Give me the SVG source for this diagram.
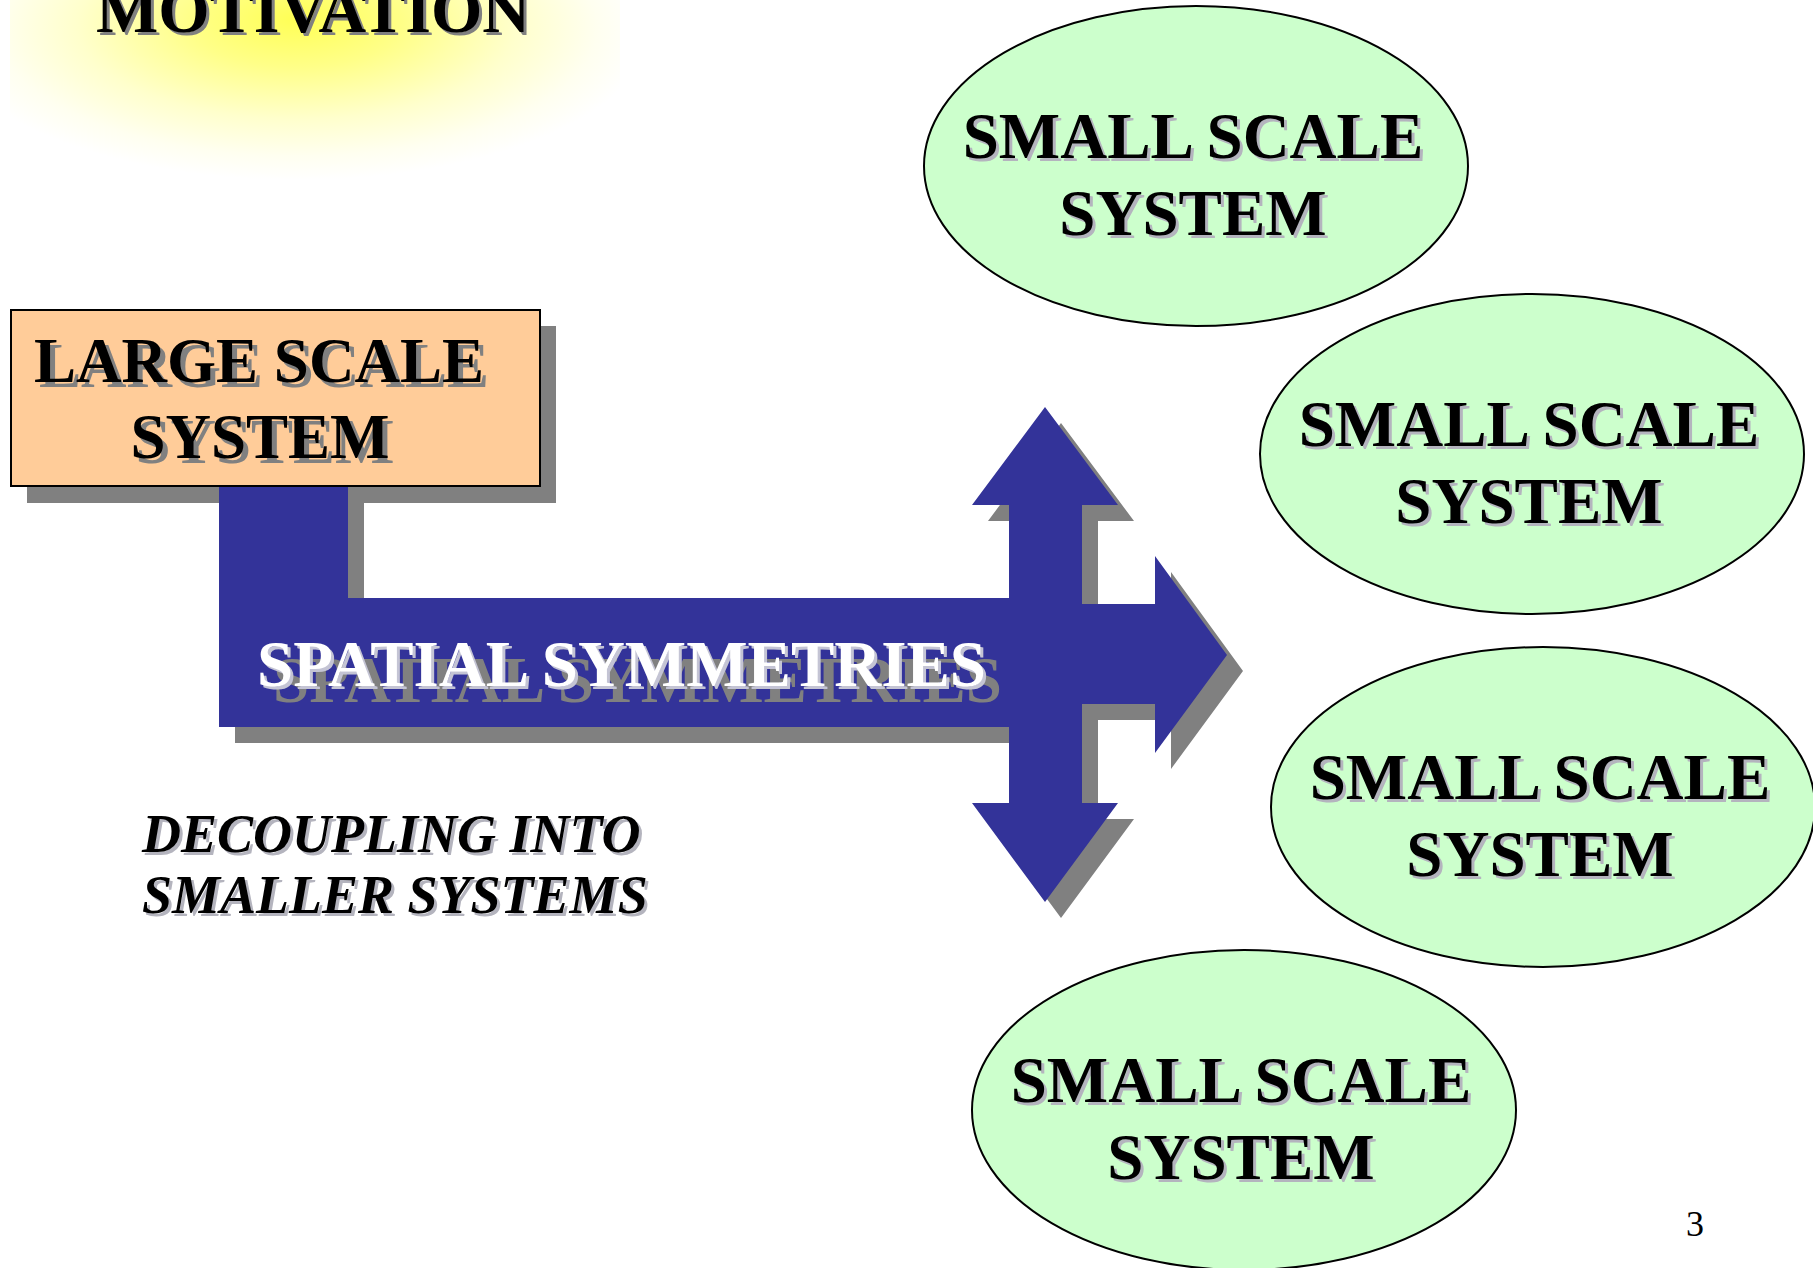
<svg xmlns="http://www.w3.org/2000/svg" width="1813" height="1268" viewBox="0 0 1813 1268">
  <defs>
    <radialGradient id="glow" cx="0.47" cy="0.42" r="0.58" fx="0.47" fy="0.38">
      <stop offset="0" stop-color="#ffff55"/>
      <stop offset="0.3" stop-color="#ffff88"/>
      <stop offset="0.62" stop-color="#ffffcc"/>
      <stop offset="0.85" stop-color="#fffff0"/>
      <stop offset="1" stop-color="#ffffff"/>
    </radialGradient>
    <style>
      .serif { font-family: "Liberation Serif", "Times New Roman", serif; }
      .bold { font-family: "Liberation Serif", "Times New Roman", serif; font-weight: bold; }
      .big { font-size: 65px; text-anchor: middle; }
      .ink { fill: #000000; }
      .soft { fill: #b4b4be; }
      .shade { fill: #808080; }
      .blue { fill: #333399; }
      .oval { fill: #ccffcc; stroke: #000000; stroke-width: 2; }
    </style>
  </defs>

  <rect width="1813" height="1268" fill="#ffffff"/>

  <!-- title with soft yellow glow behind it -->
  <g id="title">
    <rect x="10" y="-80" width="610" height="260" fill="url(#glow)"/>
    <text class="bold shade" x="99" y="35" font-size="66">MOTIVATION</text>
    <text class="bold ink" x="96" y="32" font-size="66">MOTIVATION</text>
  </g>

  <!-- connectors: bent arrow from the large system and the three-way splitter -->
  <g id="connectors">
    <rect x="27" y="326" width="529" height="177" class="shade"/>
    <polygon class="shade" points="235,503 364,503 364,614 1056,614 1056,743 235,743"/>
    <polygon class="blue" points="219,487 348,487 348,598 1040,598 1040,727 219,727"/>
    <polygon class="shade" points="1061,423 1134,521 1098,521 1098,620 1171,620 1171,572 1243,671 1171,769 1171,720 1098,720 1098,819 1134,819 1061,918 988,819 1025,819 1025,521 988,521"/>
    <polygon class="blue" points="1045,407 1118,505 1082,505 1082,604 1155,604 1155,556 1227,655 1155,753 1155,704 1082,704 1082,803 1118,803 1045,902 972,803 1009,803 1009,505 972,505"/>
    <g id="connector-label" class="bold" font-size="65">
      <text class="shade" x="273" y="702">SPATIAL SYMMETRIES</text>
      <text fill="#c4c4d4" x="260" y="689">SPATIAL SYMMETRIES</text>
      <text fill="#ffffff" x="257" y="686">SPATIAL SYMMETRIES</text>
    </g>
  </g>

  <!-- source node -->
  <g id="large-scale-system">
    <rect x="11" y="310" width="529" height="176" fill="#ffcc99" stroke="#000000" stroke-width="2"/>
    <g class="bold" font-size="63" text-anchor="middle">
      <text class="shade" x="264" y="387">LARGE SCALE</text>
      <text class="ink" x="259" y="382">LARGE SCALE</text>
      <text class="shade" x="265" y="463">SYSTEM</text>
      <text class="ink" x="260" y="458">SYSTEM</text>
    </g>
  </g>

  <!-- target nodes -->
  <g id="small-scale-system-1">
    <ellipse class="oval" cx="1196" cy="166" rx="272" ry="160"/>
    <g class="bold big">
      <text class="soft" x="1196" y="161">SMALL SCALE</text>
      <text class="ink" x="1193" y="158">SMALL SCALE</text>
      <text class="soft" x="1196" y="238">SYSTEM</text>
      <text class="ink" x="1193" y="235">SYSTEM</text>
    </g>
  </g>

  <g id="small-scale-system-2">
    <ellipse class="oval" cx="1532" cy="454" rx="272" ry="160"/>
    <g class="bold big">
      <text class="soft" x="1532" y="449">SMALL SCALE</text>
      <text class="ink" x="1529" y="446">SMALL SCALE</text>
      <text class="soft" x="1532" y="526">SYSTEM</text>
      <text class="ink" x="1529" y="523">SYSTEM</text>
    </g>
  </g>

  <g id="small-scale-system-3">
    <ellipse class="oval" cx="1543" cy="807" rx="272" ry="160"/>
    <g class="bold big">
      <text class="soft" x="1543" y="802">SMALL SCALE</text>
      <text class="ink" x="1540" y="799">SMALL SCALE</text>
      <text class="soft" x="1543" y="879">SYSTEM</text>
      <text class="ink" x="1540" y="876">SYSTEM</text>
    </g>
  </g>

  <g id="small-scale-system-4">
    <ellipse class="oval" cx="1244" cy="1110" rx="272" ry="160"/>
    <g class="bold big">
      <text class="soft" x="1244" y="1105">SMALL SCALE</text>
      <text class="ink" x="1241" y="1102">SMALL SCALE</text>
      <text class="soft" x="1244" y="1182">SYSTEM</text>
      <text class="ink" x="1241" y="1179">SYSTEM</text>
    </g>
  </g>

  <!-- caption -->
  <g id="caption" class="bold" font-style="italic" font-size="54">
    <text class="soft" x="145" y="855">DECOUPLING INTO</text>
    <text class="ink" x="142" y="852">DECOUPLING INTO</text>
    <text class="soft" x="145" y="916">SMALLER SYSTEMS</text>
    <text class="ink" x="142" y="913">SMALLER SYSTEMS</text>
  </g>

  <text id="page-number" class="serif ink" x="1686" y="1236" font-size="36">3</text>
</svg>
